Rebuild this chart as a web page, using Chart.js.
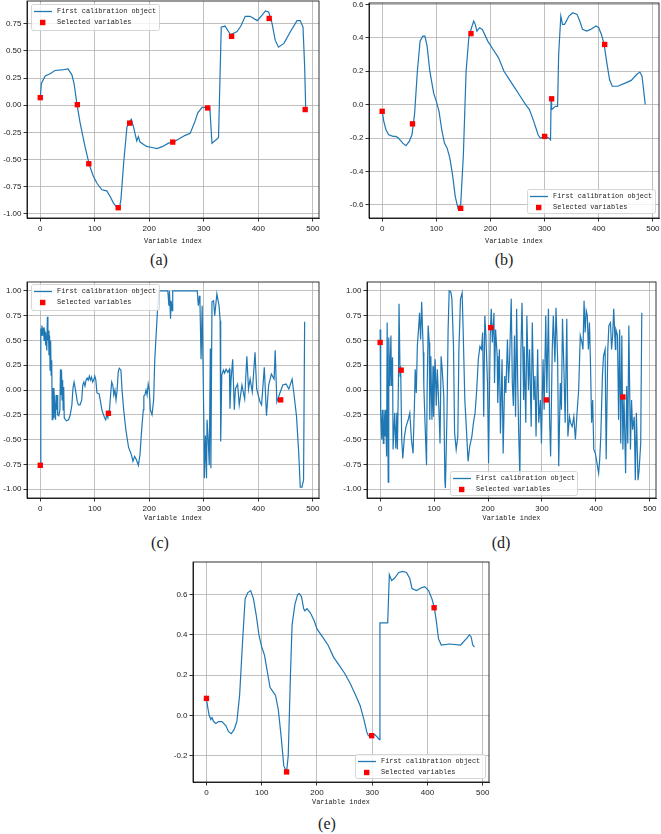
<!DOCTYPE html>
<html>
<head>
<meta charset="utf-8">
<script src="https://cdn.jsdelivr.net/npm/chart.js@4/dist/chart.umd.min.js"></script>
<style>
  body { margin: 0; width: 661px; height: 834px; background: #fff; overflow: hidden; position: relative; }
  canvas { position: absolute; }
  .lab { position: absolute; font-family: "Liberation Serif", serif; font-size: 16px; color: #222; transform: translate(-50%, -50%); }
</style>
</head>
<body>
<canvas id="ca"></canvas>
<canvas id="cb"></canvas>
<canvas id="cc"></canvas>
<canvas id="cd"></canvas>
<canvas id="ce"></canvas>
<div class="lab" style="left:159px;top:260px">(a)</div>
<div class="lab" style="left:504px;top:260px">(b)</div>
<div class="lab" style="left:160px;top:543px">(c)</div>
<div class="lab" style="left:501px;top:543px">(d)</div>
<div class="lab" style="left:327px;top:824px">(e)</div>
<script>
// curves as [variable index, value]
var aLine = [[0,0.07],[2,0.2],[9,0.27],[18,0.29],[27,0.32],[39,0.325],[51,0.335],[58,0.28],[62,0.2],[67,0.02],[73,-0.16],[82,-0.38],[90,-0.55],[97,-0.65],[104,-0.72],[113,-0.78],[122,-0.79],[128,-0.84],[134,-0.9],[140,-0.94],[145,-0.955],[148,-0.87],[153,-0.53],[159,-0.2],[164,-0.15],[167,-0.13],[171,-0.2],[177,-0.33],[180,-0.29],[183,-0.34],[195,-0.38],[205,-0.39],[214,-0.4],[225,-0.38],[235,-0.35],[244,-0.34],[255,-0.31],[265,-0.28],[275,-0.26],[283,-0.16],[289,-0.07],[297,-0.02],[311,-0.02],[315,-0.35],[327,-0.3],[332,0.72],[339,0.73],[349,0.65],[361,0.68],[368,0.73],[376,0.82],[385,0.82],[398,0.78],[407,0.83],[413,0.87],[419,0.86],[425,0.76],[431,0.6],[437,0.535],[447,0.57],[459,0.68],[471,0.78],[477,0.78],[482,0.72],[485,0.36],[487,-0.04]];
var aSel = [[0,0.07],[68,0.005],[89,-0.54],[143,-0.945],[164,-0.165],[243,-0.34],[307,-0.025],[351,0.635],[420,0.8],[486,-0.04]];

var bLine = [[0,-0.04],[3,-0.1],[7,-0.15],[12,-0.18],[20,-0.19],[25,-0.19],[30,-0.2],[38,-0.23],[44,-0.245],[50,-0.22],[55,-0.18],[60,-0.05],[65,0.2],[70,0.38],[75,0.41],[79,0.41],[83,0.35],[88,0.2],[95,0.07],[100,0.02],[105,-0.04],[110,-0.15],[115,-0.23],[120,-0.26],[125,-0.32],[130,-0.42],[135,-0.55],[140,-0.62],[145,-0.6],[150,-0.3],[155,0.2],[160,0.4],[165,0.46],[169,0.5],[172,0.48],[175,0.44],[180,0.46],[185,0.45],[195,0.38],[205,0.33],[215,0.28],[225,0.2],[235,0.15],[245,0.1],[255,0.05],[265,0.0],[272,-0.03],[280,-0.1],[288,-0.18],[292,-0.2],[300,-0.19],[308,-0.2],[311,-0.21],[312,0.03],[313,-0.03],[320,-0.01],[324,-0.01],[326,0.3],[330,0.53],[333,0.48],[337,0.48],[345,0.53],[352,0.55],[360,0.54],[365,0.5],[370,0.45],[378,0.44],[385,0.45],[395,0.47],[400,0.46],[405,0.42],[410,0.36],[415,0.25],[420,0.15],[425,0.11],[435,0.11],[450,0.13],[460,0.145],[470,0.18],[476,0.195],[480,0.17],[486,0.0]];
var bSel = [[0,-0.04],[56,-0.115],[145,-0.62],[164,0.425],[300,-0.19],[313,0.035],[411,0.36]];

var cLine = [[0,-0.76],[1,0.62],[2,0.55],[3,0.65],[4,0.6],[5,0.55],[6,0.63],[7,0.5],[8,0.6],[9,0.58],[10,0.45],[11,0.55],[12,0.4],[13,0.74],[14,0.5],[15,0.6],[16,0.35],[17,0.55],[18,0.2],[19,0.5],[20,0.15],[21,0.3],[22,-0.3],[23,0.02],[24,-0.28],[25,0.02],[26,-0.1],[28,-0.3],[29,-0.05],[30,-0.2],[31,-0.05],[32,-0.25],[34,-0.26],[36,-0.2],[37,0.21],[38,-0.05],[39,0.2],[40,-0.1],[41,0.1],[42,-0.2],[43,0.03],[44,-0.28],[46,-0.3],[48,-0.31],[52,-0.3],[55,-0.25],[58,-0.15],[60,0.02],[62,0.08],[64,0.02],[66,-0.05],[68,-0.12],[70,-0.15],[73,-0.15],[76,-0.1],[78,0.05],[80,0.08],[82,0.04],[84,0.1],[86,0.12],[88,0.1],[90,0.14],[92,0.1],[94,0.13],[96,0.08],[98,0.1],[100,0.14],[102,0.1],[104,-0.03],[108,-0.04],[110,-0.1],[113,-0.2],[116,-0.25],[118,-0.28],[120,-0.3],[122,-0.25],[124,-0.28],[125,-0.23],[127,-0.2],[129,-0.05],[131,0.08],[133,0.05],[135,-0.05],[137,0.0],[139,-0.1],[141,0.0],[143,0.18],[145,0.22],[148,0.2],[150,0.0],[153,-0.2],[157,-0.4],[162,-0.58],[167,-0.65],[170,-0.72],[173,-0.67],[176,-0.7],[180,-0.76],[183,-0.65],[186,-0.4],[189,-0.2],[190,-0.06],[192,-0.05],[194,0.0],[196,-0.05],[198,0.06],[200,0.0],[202,-0.2],[205,-0.25],[208,-0.1],[210,0.3],[212,0.5],[215,0.8],[218,1.0],[234,1.0],[236,0.85],[237,1.0],[239,0.72],[240,0.9],[242,0.8],[243,1.0],[288,1.0],[290,0.85],[292,0.95],[293,0.87],[295,0.31],[297,0.85],[300,-0.29],[301,-0.89],[303,-0.46],[305,-0.89],[306,-0.3],[308,-0.49],[310,-0.76],[312,0.42],[313,-0.79],[315,0.89],[318,0.9],[320,0.75],[324,0.97],[328,0.85],[330,0.7],[331,-0.52],[333,0.15],[336,0.2],[338,0.17],[341,0.21],[344,0.18],[347,0.21],[348,-0.19],[350,0.1],[353,0.31],[356,-0.2],[358,0.01],[362,0.06],[365,-0.15],[370,0.05],[375,-0.09],[379,0.34],[382,0.01],[385,0.11],[389,-0.02],[394,0.38],[397,0.01],[403,-0.12],[406,-0.15],[411,0.23],[415,-0.26],[419,0.05],[424,0.16],[429,0.11],[431,0.4],[434,-0.12],[439,-0.04],[445,0.05],[451,0.06],[456,0.01],[462,0.11],[465,-0.02],[470,-0.26],[474,-0.62],[477,-0.98],[480,-0.98],[483,-0.91],[485,0.69]];
var cSel = [[0,-0.76],[125,-0.235],[441,-0.1]];

var dLine = [[0,0.61],[1,-0.23],[3,-0.5],[4,-0.2],[6,-0.54],[7,-0.2],[9,-0.47],[10,-0.2],[12,-0.67],[13,0.68],[15,-0.93],[16,0.53],[18,0.04],[20,0.55],[21,0.04],[23,0.33],[24,-0.6],[27,-0.23],[29,-0.59],[31,-0.23],[32,-0.6],[34,0.11],[35,0.87],[37,0.14],[38,0.24],[40,-0.5],[42,-0.69],[45,-0.47],[48,-0.37],[52,-0.3],[55,-0.23],[58,-0.5],[61,-0.64],[64,-0.06],[65,0.21],[67,-0.03],[69,0.45],[72,0.68],[73,0.78],[75,0.51],[77,0.89],[80,0.38],[81,0.04],[83,-0.3],[86,-0.76],[87,-0.06],[89,0.65],[91,0.48],[92,-0.3],[94,0.34],[96,-0.3],[98,0.24],[99,-0.27],[102,0.31],[104,-0.16],[106,0.21],[109,-0.2],[111,-0.54],[113,0.34],[115,0.21],[118,-0.06],[120,-0.91],[121,-0.99],[124,-0.23],[126,0.61],[128,1.0],[131,0.99],[133,0.92],[136,0.44],[138,-0.43],[141,-0.6],[144,-0.47],[146,0.41],[149,0.92],[152,0.98],[154,0.58],[157,-0.1],[160,-0.4],[163,-0.72],[166,-0.57],[170,-0.47],[173,-0.33],[176,-0.23],[179,0.0],[182,0.31],[185,0.44],[188,0.41],[190,0.58],[192,-0.27],[194,0.75],[196,0.55],[199,0.07],[201,-0.74],[204,0.55],[206,0.82],[208,0.48],[211,0.78],[212,0.07],[214,0.61],[217,0.34],[218,-0.13],[221,0.41],[223,-0.44],[226,0.31],[228,-0.64],[231,0.14],[233,-0.03],[236,0.51],[238,0.07],[240,0.31],[243,0.92],[245,0.07],[247,-0.16],[249,0.55],[251,-0.27],[253,0.82],[255,0.07],[257,-0.47],[259,-0.88],[261,0.41],[263,0.88],[266,-0.1],[267,0.44],[270,-0.33],[272,0.75],[275,0.0],[277,0.41],[280,-0.37],[282,0.68],[285,-0.1],[287,0.14],[289,-0.47],[292,0.41],[294,-0.33],[297,-0.1],[299,-0.54],[302,0.31],[304,-0.2],[307,0.75],[309,-0.03],[312,0.82],[314,-0.27],[316,-0.67],[319,0.41],[321,0.75],[324,0.28],[326,0.83],[329,0.31],[331,-0.77],[334,0.07],[336,-0.2],[338,0.72],[341,0.14],[343,-0.33],[346,0.72],[348,-0.47],[351,-0.27],[353,-0.33],[356,-0.37],[359,-0.27],[362,-0.5],[365,-0.23],[368,0.0],[371,0.55],[374,0.48],[376,0.41],[378,0.9],[380,0.58],[382,0.8],[384,0.75],[386,0.41],[388,0.68],[390,0.24],[392,-0.33],[394,-0.1],[396,-0.6],[399,-0.64],[402,-0.74],[405,-0.84],[407,-0.7],[409,-0.47],[412,0.14],[414,0.34],[417,0.41],[419,-0.7],[422,0.41],[424,0.65],[427,0.68],[429,0.41],[431,0.55],[433,0.82],[436,0.41],[437,0.61],[440,0.55],[442,-0.3],[444,0.61],[446,-0.54],[448,0.55],[450,-0.6],[452,-0.06],[455,-0.84],[457,0.04],[459,-0.54],[461,0.65],[464,-0.6],[466,-0.1],[468,-0.4],[471,-0.27],[473,-0.91],[475,-0.23],[478,-0.91],[480,-0.81],[483,-0.54],[485,0.78]];
var dSel = [[0,0.48],[39,0.2],[205,0.63],[308,-0.1],[450,-0.07]];

var eLine = [[0,0.08],[3,0.03],[5,0.0],[8,-0.02],[10,-0.01],[13,-0.03],[17,-0.04],[22,-0.03],[28,-0.03],[35,-0.05],[40,-0.08],[45,-0.09],[50,-0.07],[55,-0.03],[60,0.1],[65,0.35],[70,0.58],[75,0.61],[80,0.62],[85,0.58],[90,0.5],[95,0.4],[100,0.34],[105,0.3],[110,0.22],[115,0.14],[120,0.12],[125,0.1],[130,0.03],[135,-0.1],[140,-0.25],[145,-0.28],[148,-0.2],[152,0.2],[155,0.45],[160,0.55],[165,0.6],[168,0.605],[172,0.59],[176,0.53],[178,0.52],[182,0.53],[188,0.51],[195,0.47],[200,0.43],[210,0.39],[220,0.35],[230,0.29],[240,0.25],[250,0.21],[260,0.16],[270,0.1],[278,0.05],[285,-0.02],[290,-0.08],[293,-0.1],[298,-0.1],[305,-0.095],[310,-0.11],[313,-0.12],[314,0.46],[325,0.46],[328,0.46],[331,0.7],[335,0.67],[340,0.68],[348,0.71],[355,0.715],[362,0.71],[368,0.68],[372,0.63],[380,0.62],[390,0.635],[395,0.64],[402,0.62],[408,0.58],[412,0.54],[416,0.47],[420,0.38],[425,0.35],[440,0.355],[460,0.35],[470,0.38],[476,0.4],[479,0.39],[482,0.35],[485,0.34]];
var eSel = [[0,0.085],[145,-0.28],[299,-0.1],[412,0.535]];

var xTicksStep = 100;
var seriesNames = ['First calibration object', 'Selected variables'];

// draws the full axes box like matplotlib spines
var framePlugin = {
    id: 'frame',
    afterDatasetsDraw: function(chart) {
        var a = chart.chartArea, ctx = chart.ctx;
        ctx.save();
        ctx.strokeStyle = '#000';
        ctx.lineWidth = 0.8;
        ctx.strokeRect(a.left, a.top, a.right - a.left, a.bottom - a.top);
        ctx.restore();
    }
};

// legend box placed inside the axes
var boxLegend = {
    id: 'boxLegend',
    afterDraw: function(chart, args, o) {
        var ctx = chart.ctx;
        ctx.save();
        ctx.fillStyle = 'rgba(255,255,255,0.8)';
        ctx.strokeStyle = '#cccccc';
        ctx.lineWidth = 0.8;
        ctx.beginPath();
        ctx.roundRect(o.x + 0.5, o.y + 0.5, o.w, o.h, 2);
        ctx.fill();
        ctx.stroke();
        var r1 = o.y + 7.5, r2 = o.y + 18.5;
        ctx.strokeStyle = '#1f77b4';
        ctx.lineWidth = 1.3;
        ctx.beginPath();
        ctx.moveTo(o.x + 3, r1);
        ctx.lineTo(o.x + 21, r1);
        ctx.stroke();
        ctx.fillStyle = '#ff0000';
        ctx.fillRect(o.x + 9, r2 - 2.7, 5.4, 5.4);
        ctx.fillStyle = '#222';
        ctx.font = '6.9px "Liberation Mono"';
        ctx.textBaseline = 'middle';
        ctx.fillText(chart.data.datasets[1].label, o.x + 26, r1);
        ctx.fillText(chart.data.datasets[0].label, o.x + 26, r2);
        ctx.restore();
    }
};

Chart.register(framePlugin, boxLegend);

function pts(list) {
    return list.map(function(p) { return {x: p[0], y: p[1]}; });
}

function makePanel(id, p) {
    var cx = p.L - 30, cy = p.T - 8;
    var cw = p.R + 10 - cx, ch = p.B + 32 - cy;
    var cv = document.getElementById(id);
    cv.width = cw; cv.height = ch;
    cv.style.left = cx + 'px'; cv.style.top = cy + 'px';
    cv.style.width = cw + 'px'; cv.style.height = ch + 'px';
    var tickFont = {family: '"Liberation Sans"', size: 8};
    return new Chart(cv.getContext('2d'), {
        type: 'scatter',
        data: {
            datasets: [{
                label: seriesNames[1],
                data: pts(p.sel),
                backgroundColor: '#ff0000',
                borderWidth: 0,
                pointStyle: 'rect',
                pointRadius: 3.8,
                order: 0
            }, {
                label: seriesNames[0],
                data: pts(p.line),
                showLine: true,
                borderColor: '#1f77b4',
                borderWidth: 1.2,
                pointRadius: 0,
                tension: 0,
                order: 1
            }]
        },
        options: {
            responsive: false,
            animation: false,
            devicePixelRatio: 1,
            layout: {padding: {left: 0, top: 8, right: 10, bottom: 0}},
            plugins: {
                legend: {display: false},
                tooltip: {enabled: false},
                boxLegend: {x: p.leg[0] - cx, y: p.leg[1] - cy, w: p.leg[2], h: p.leg[3]}
            },
            scales: {
                x: {
                    type: 'linear',
                    min: -24.35, max: 511.35,
                    afterFit: function(s) { s.height = 32; },
                    ticks: {stepSize: xTicksStep, includeBounds: false, autoSkip: false, maxRotation: 0,
                            padding: 2, color: '#222', font: tickFont},
                    grid: {color: '#b0b0b0', lineWidth: 0.8, tickColor: '#000', tickLength: 3.5, tickWidth: 0.8},
                    border: {color: '#000', width: 0.8},
                    title: {display: true, text: 'Variable index', color: '#222',
                            font: {family: '"Liberation Mono"', size: 6.9},
                            padding: {top: 0, bottom: (p.B + 32) - p.titleY - 4.2}}
                },
                y: {
                    min: p.ymin, max: p.ymax,
                    afterFit: function(s) { s.width = 30; },
                    ticks: {stepSize: p.ystep, includeBounds: false, autoSkip: false, padding: 2,
                            color: '#222', font: tickFont,
                            callback: function(v) { return Number(v).toFixed(p.dec); }},
                    grid: {color: '#b0b0b0', lineWidth: 0.8, tickColor: '#000', tickLength: 3.5, tickWidth: 0.8},
                    border: {color: '#000', width: 0.8}
                }
            }
        }
    });
}

makePanel('ca', {L: 27, T: 1, R: 319, B: 218, titleY: 241, ymin: -1.04, ymax: 0.961, ystep: 0.25, dec: 2,
                 line: aLine, sel: aSel, leg: [31, 4, 128, 26]});
makePanel('cb', {L: 369, T: 3, R: 659, B: 218, titleY: 241, ymin: -0.678, ymax: 0.608, ystep: 0.2, dec: 1,
                 line: bLine, sel: bSel, leg: [527, 189, 128, 24]});
makePanel('cc', {L: 27, T: 282, R: 319, B: 498, titleY: 518, ymin: -1.09, ymax: 1.09, ystep: 0.25, dec: 2,
                 line: cLine, sel: cSel, leg: [31, 284, 128, 26]});
makePanel('cd', {L: 367, T: 282, R: 656, B: 498, titleY: 518, ymin: -1.09, ymax: 1.09, ystep: 0.25, dec: 2,
                 line: dLine, sel: dSel, leg: [450, 471, 127, 24]});
makePanel('ce', {L: 193, T: 562, R: 489, B: 782, titleY: 802, ymin: -0.33, ymax: 0.762, ystep: 0.2, dec: 1,
                 line: eLine, sel: eSel, leg: [355, 754, 130, 24]});
</script>
</body>
</html>
